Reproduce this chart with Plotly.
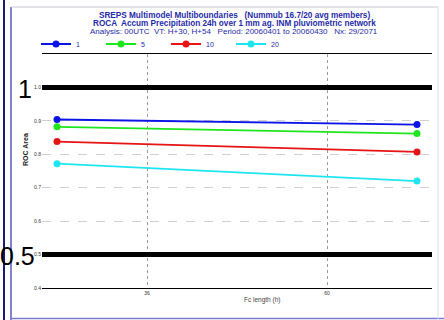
import plotly.graph_objects as go

# Lead times (h) and ROC area for each ensemble-member threshold
lead_times = [24, 72]
series_names = ["1", "5", "10", "20"]
roc_1 = [0.904, 0.889]
roc_5 = [0.882, 0.862]
roc_10 = [0.838, 0.807]
roc_20 = [0.772, 0.720]
series_values = [roc_1, roc_5, roc_10, roc_20]
series_colors = ["#0a14e6", "#1ee61e", "#e61414", "#1ee6f0"]

x_ticks = [36, 60]
y_ticks = [0.4, 0.5, 0.6, 0.7, 0.8, 0.9, 1.0]

title_lines = [
    "SREPS Multimodel Multiboundaries   (Nummub 16.7/20 avg members)",
    "ROCA  Accum Precipitation 24h over 1 mm ag. INM pluviometric network",
    "Analysis: 00UTC  VT: H+30, H+54   Period: 20060401 to 20060430   Nx: 29/2071",
]

FONT = "Liberation Sans, Arial, sans-serif"
W, H = 444, 320
L, R, T, B = 42, 12, 54, 32
PW, PH = W - L - R, H - T - B


def px(xp):
    return (xp - L) / PW


def py(yp):
    return (H - B - yp) / PH


fig = go.Figure()
for name, vals, col in zip(series_names, series_values, series_colors):
    fig.add_trace(go.Scatter(
        x=lead_times, y=vals, name=name, mode="lines+markers",
        line=dict(color=col, width=1.8),
        marker=dict(color=col, size=7, symbol="circle"),
    ))

shapes = [
    # reference lines at perfect (1) and no skill (0.5)
    dict(type="line", xref="paper", yref="y", x0=0, x1=1, y0=1.0, y1=1.0,
         line=dict(color="black", width=5)),
    dict(type="line", xref="paper", yref="y", x0=0, x1=1, y0=0.5, y1=0.5,
         line=dict(color="black", width=5)),
    # page frame
    dict(type="line", xref="paper", yref="paper", x0=px(4), x1=px(4), y0=py(0), y1=py(320),
         line=dict(color="#1a1a70", width=2)),
    dict(type="line", xref="paper", yref="paper", x0=px(11), x1=px(11), y0=py(7), y1=py(320),
         line=dict(color="#5a5ab4", width=1.5)),
    dict(type="line", xref="paper", yref="paper", x0=px(11), x1=px(444), y0=py(318.5), y1=py(318.5),
         line=dict(color="#7a7ad0", width=1.5)),
    dict(type="line", xref="paper", yref="paper", x0=px(11), x1=px(438), y0=py(7), y1=py(7),
         line=dict(color="#c8c8d0", width=1)),
    dict(type="line", xref="paper", yref="paper", x0=px(438), x1=px(438), y0=py(7), y1=py(319),
         line=dict(color="#dcdce4", width=1)),
]

annotations = []
title_sizes = [8.2, 8.2, 8.0]
title_weights = ["bold", "bold", "normal"]
for txt, yp, sz, wt in zip(title_lines, [15.5, 23.5, 31.5], title_sizes, title_weights):
    annotations.append(dict(
        text=txt, xref="paper", yref="paper", x=px(234), y=py(yp),
        xanchor="center", yanchor="middle", showarrow=False,
        font=dict(family=FONT, size=sz, color="#1f2aa8", weight=wt),
    ))
annotations += [
    dict(text="1", xref="paper", yref="y", x=px(25), y=1.0, yshift=-2,
         xanchor="center", yanchor="middle", showarrow=False,
         font=dict(family=FONT, size=25, color="black")),
    dict(text="0.5", xref="paper", yref="y", x=px(17.5), y=0.5, yshift=-1,
         xanchor="center", yanchor="middle", showarrow=False,
         font=dict(family=FONT, size=25, color="black")),
    dict(text="ROC Area", xref="paper", yref="paper", x=px(25), y=py(150),
         xanchor="center", yanchor="middle", showarrow=False, textangle=-90,
         font=dict(family=FONT, size=7, color="#222", weight="bold")),
    dict(text="Fc length (h)", xref="paper", yref="paper", x=px(262), y=py(300),
         xanchor="center", yanchor="middle", showarrow=False,
         font=dict(family=FONT, size=6.5, color="#444")),
]

fig.update_layout(
    width=W, height=H,
    margin=dict(l=L, r=R, t=T, b=B),
    paper_bgcolor="white", plot_bgcolor="white",
    font=dict(family=FONT),
    showlegend=True,
    legend=dict(
        orientation="h", x=px(36), y=py(44), xanchor="left", yanchor="middle",
        entrywidth=20, entrywidthmode="pixels", itemwidth=30,
        font=dict(family=FONT, size=7, color="#1f2aa8"),
        bgcolor="rgba(0,0,0,0)", borderwidth=0, tracegroupgap=0,
    ),
    xaxis=dict(
        range=[22, 74], tickvals=x_ticks, ticktext=[str(v) for v in x_ticks],
        showgrid=True, gridcolor="#9a9a9a", griddash="dot", gridwidth=1,
        showline=True, linecolor="black", linewidth=1.2, mirror=True,
        ticks="", tickfont=dict(family=FONT, size=5, color="#333"),
        zeroline=False,
    ),
    yaxis=dict(
        range=[0.4, 1.1], tickvals=y_ticks,
        ticktext=[f"{v:.1f}" for v in y_ticks],
        showgrid=True, gridcolor="#d0d0d0", griddash="dash", gridwidth=1,
        showline=False, ticks="", tickfont=dict(family=FONT, size=5, color="#333"),
        zeroline=False,
    ),
    shapes=shapes,
    annotations=annotations,
)

fig.write_html("out.html")
